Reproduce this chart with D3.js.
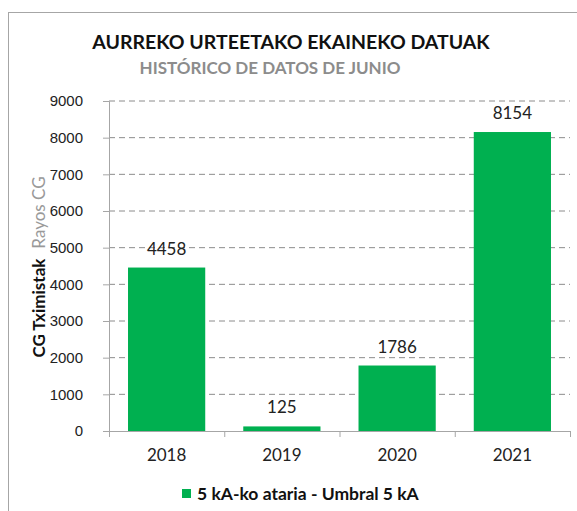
<!DOCTYPE html>
<html>
<head>
<meta charset="utf-8">
<script src="https://cdn.jsdelivr.net/npm/d3@7"></script>
<style>
  body { margin: 0; background: #fff; }
  svg { font-family: "Lato", "Open Sans", sans-serif; }
  .axis text { font-size: 15px; fill: #222; }
  .axis path, .axis line { stroke: #a6a6a6; }
</style>
</head>
<body>
<svg id="chart" width="577" height="511"></svg>
<script>
"use strict";

const years = ["2018", "2019", "2020", "2021"];
const rayos = [4458, 125, 1786, 8154];
const yTicks = [0, 1000, 2000, 3000, 4000, 5000, 6000, 7000, 8000, 9000];

const svg = d3.select("#chart");
const margin = { top: 101, left: 109, right: 7, bottom: 80 };
const width = 577 - margin.left - margin.right;
const height = 511 - margin.top - margin.bottom;

// outer frame
svg.append("rect")
  .attr("x", 8.5).attr("y", 12.5)
  .attr("width", 600).attr("height", 600)
  .attr("fill", "none").attr("stroke", "#a6a6a6");

svg.append("text")
  .attr("x", 291).attr("y", 49)
  .attr("text-anchor", "middle")
  .attr("font-size", 19.5).attr("font-weight", "bold").attr("fill", "#111")
  .text("AURREKO URTEETAKO EKAINEKO DATUAK");

svg.append("text")
  .attr("x", 270).attr("y", 74)
  .attr("text-anchor", "middle")
  .attr("font-size", 17).attr("font-weight", "bold").attr("fill", "#8c8c8c")
  .text("HISTÓRICO DE DATOS DE JUNIO");

const g = svg.append("g").attr("transform", `translate(${margin.left},${margin.top})`);

const x = d3.scaleBand().domain(years).range([0, width]).paddingInner(0.33).paddingOuter(0.165);
const y = d3.scaleLinear().domain([0, 9000]).range([height, 0]);

// dashed gridlines
g.selectAll(".grid")
  .data(yTicks.filter(d => d > 0))
  .enter().append("line")
  .attr("x1", 0).attr("x2", width)
  .attr("y1", d => y(d)).attr("y2", d => y(d))
  .attr("stroke", "#8c8c8c")
  .attr("stroke-dasharray", "6,4");

g.selectAll(".bar")
  .data(rayos)
  .enter().append("rect")
  .attr("x", (d, i) => x(years[i]))
  .attr("y", d => y(d))
  .attr("width", x.bandwidth())
  .attr("height", d => height - y(d))
  .attr("fill", "#00b050");

g.selectAll(".lbl")
  .data(rayos)
  .enter().append("text")
  .attr("x", (d, i) => x(years[i]) + x.bandwidth() / 2)
  .attr("y", d => y(d) - 13)
  .attr("text-anchor", "middle")
  .attr("font-size", 17).attr("fill", "#222")
  .text(d => d);

const yAxis = d3.axisLeft(y).tickValues(yTicks).tickSize(6).tickPadding(20).tickFormat(d => d);
g.append("g").attr("class", "axis").call(yAxis);

const xAxis = d3.axisBottom(d3.scaleLinear().domain([0, 4]).range([0, width]))
  .ticks(4).tickSize(6).tickFormat("");
g.append("g").attr("class", "axis").attr("transform", `translate(0,${height})`).call(xAxis);

g.selectAll(".yr")
  .data(years)
  .enter().append("text")
  .attr("x", d => x(d) + x.bandwidth() / 2)
  .attr("y", height + 30)
  .attr("text-anchor", "middle")
  .attr("font-size", 17).attr("fill", "#222")
  .text(d => d);

// y axis title
const yt = svg.append("text")
  .attr("transform", "translate(45,267) rotate(-90)")
  .attr("text-anchor", "middle")
  .attr("font-size", 17);
yt.append("tspan").attr("fill", "#111").attr("font-weight", "bold").text("CG Tximistak");
yt.append("tspan").attr("fill", "#999").attr("dx", 10).text("Rayos CG");

// legend
svg.append("rect")
  .attr("x", 182).attr("y", 489)
  .attr("width", 9).attr("height", 9)
  .attr("fill", "#00b050");
svg.append("text")
  .attr("x", 197).attr("y", 500)
  .attr("font-size", 17.5).attr("font-weight", "bold").attr("fill", "#111")
  .text("5 kA-ko ataria - Umbral 5 kA");
</script>
</body>
</html>
